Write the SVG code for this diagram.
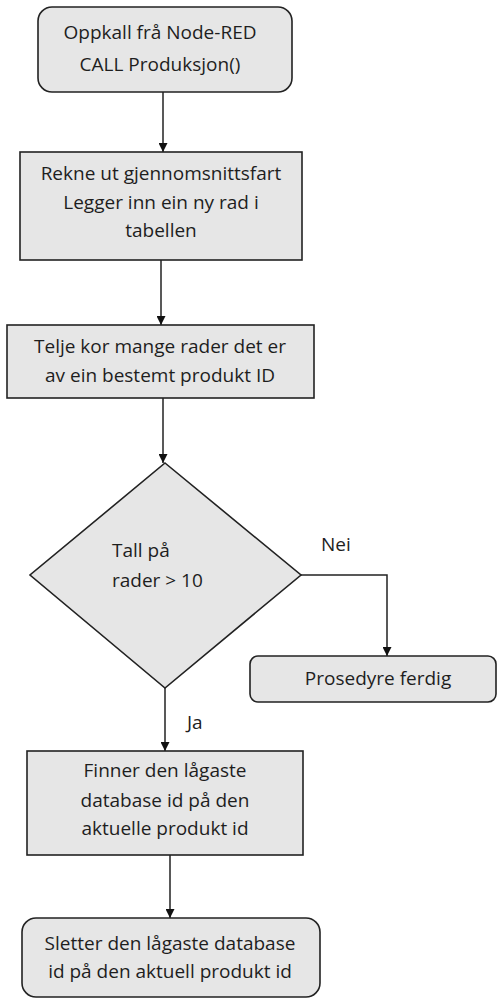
<svg xmlns="http://www.w3.org/2000/svg" width="501" height="999" viewBox="0 0 501 999">
  <style>
    .shape { fill: #e6e6e6; stroke: #222; stroke-width: 1.6; }
    .label { font-family: "Open Sans", "Liberation Sans", sans-serif; font-size: 19px; fill: #1e1e1e; text-anchor: middle; }
    .left { text-anchor: start; }
    .edge { fill: none; stroke: #222; stroke-width: 1.5; marker-end: url(#arrow); }
  </style>
  <defs>
    <marker id="arrow" viewBox="0 0 10 10" refX="10" refY="5" markerWidth="9" markerHeight="9" markerUnits="userSpaceOnUse" orient="auto">
      <path d="M0,0 L10,5 L0,10 Z" fill="#111"/>
    </marker>
  </defs>

  <rect width="501" height="999" fill="#fff"/>

  <g id="connectors">
    <path class="edge" d="M163,92 V152"/>
    <path class="edge" d="M161,260 V325"/>
    <path class="edge" d="M163,398 V463"/>
    <path class="edge" d="M301,575 H387 V656"/>
    <path class="edge" d="M165,688 V751"/>
    <path class="edge" d="M170,855 V918"/>
  </g>

  <g id="start">
    <rect class="shape" x="38" y="7" width="254" height="85" rx="14"/>
    <text class="label" x="160" y="39">Oppkall frå Node-RED</text>
    <text class="label" x="160" y="71">CALL Produksjon()</text>
  </g>

  <g id="calc">
    <rect class="shape" x="20" y="152" width="282" height="108"/>
    <text class="label" x="161" y="180">Rekne ut gjennomsnittsfart</text>
    <text class="label" x="161" y="209">Legger inn ein ny rad i</text>
    <text class="label" x="161" y="237">tabellen</text>
  </g>

  <g id="count">
    <rect class="shape" x="7" y="325" width="307" height="73"/>
    <text class="label" x="160" y="353">Telje kor mange rader det er</text>
    <text class="label" x="160" y="382">av ein bestemt produkt ID</text>
  </g>

  <g id="decision">
    <polygon class="shape" points="165,463 301,575 165,688 30,575"/>
    <text class="label left" x="112" y="557">Tall på</text>
    <text class="label left" x="112" y="587">rader &gt; 10</text>
  </g>

  <g id="edge-labels">
    <text class="label left" x="321" y="551">Nei</text>
    <text class="label left" x="187" y="729">Ja</text>
  </g>

  <g id="done">
    <rect class="shape" x="250" y="656" width="246" height="46" rx="8"/>
    <text class="label" x="378" y="685">Prosedyre ferdig</text>
  </g>

  <g id="find-lowest">
    <rect class="shape" x="27" y="751" width="276" height="104"/>
    <text class="label" x="165" y="777">Finner den lågaste</text>
    <text class="label" x="165" y="807">database id på den</text>
    <text class="label" x="165" y="835">aktuelle produkt id</text>
  </g>

  <g id="delete-lowest">
    <rect class="shape" x="22" y="918" width="298" height="79" rx="14"/>
    <text class="label" x="170" y="950">Sletter den lågaste database</text>
    <text class="label" x="170" y="978">id på den aktuell produkt id</text>
  </g>
</svg>
